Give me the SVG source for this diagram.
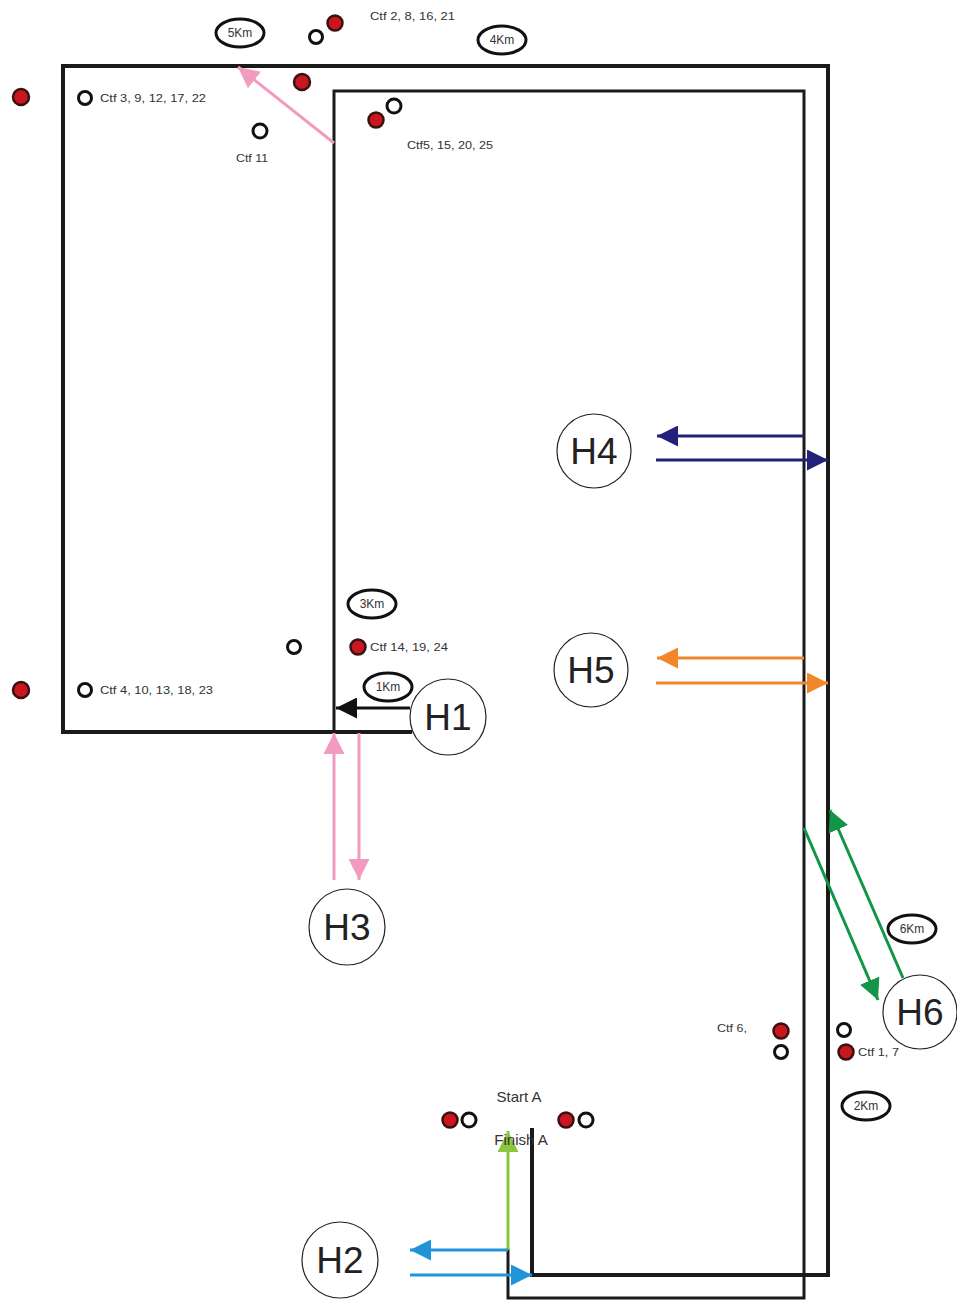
<svg xmlns="http://www.w3.org/2000/svg" width="957" height="1301" viewBox="0 0 957 1301">
<style>
.frame{fill:none;stroke:#1a1a1a;stroke-width:4;stroke-linecap:square}
.frame2{fill:none;stroke:#1a1a1a;stroke-width:3;stroke-linecap:square}
.red{fill:#c8171e;stroke:#3a1010;stroke-width:2.5}
.wht{fill:#fff;stroke:#111;stroke-width:3}
.sm{font-family:"Liberation Sans",Arial,sans-serif;font-size:11px;fill:#333}
.km{fill:#fff;stroke:#111;stroke-width:3}
.kmt{font-family:"Liberation Sans",Arial,sans-serif;font-size:12px;fill:#333;text-anchor:middle}
.hc{fill:#fff;stroke:#222;stroke-width:1.2}
.ht{font-family:"Liberation Sans",Arial,sans-serif;font-size:37px;fill:#222;text-anchor:middle}
.lbl{font-family:"Liberation Sans",Arial,sans-serif;font-size:15px;fill:#333;text-anchor:middle}
</style>
<defs>
<marker id="mBlack" viewBox="0 0 10 10" refX="10" refY="5" markerWidth="7" markerHeight="7" markerUnits="strokeWidth" orient="auto"><path d="M0,0 L10,5 L0,10 z" fill="#111"/></marker>
<marker id="mPink" viewBox="0 0 10 10" refX="10" refY="5" markerWidth="7" markerHeight="7" markerUnits="strokeWidth" orient="auto"><path d="M0,0 L10,5 L0,10 z" fill="#f29ac0"/></marker>
<marker id="mNavy" viewBox="0 0 10 10" refX="10" refY="5" markerWidth="7" markerHeight="7" markerUnits="strokeWidth" orient="auto"><path d="M0,0 L10,5 L0,10 z" fill="#22207a"/></marker>
<marker id="mOrange" viewBox="0 0 10 10" refX="10" refY="5" markerWidth="7" markerHeight="7" markerUnits="strokeWidth" orient="auto"><path d="M0,0 L10,5 L0,10 z" fill="#f0872a"/></marker>
<marker id="mGreen" viewBox="0 0 10 10" refX="10" refY="5" markerWidth="7" markerHeight="7" markerUnits="strokeWidth" orient="auto"><path d="M0,0 L10,5 L0,10 z" fill="#139447"/></marker>
<marker id="mLime" viewBox="0 0 10 10" refX="10" refY="5" markerWidth="7" markerHeight="7" markerUnits="strokeWidth" orient="auto"><path d="M0,0 L10,5 L0,10 z" fill="#8cc63e"/></marker>
<marker id="mBlue" viewBox="0 0 10 10" refX="10" refY="5" markerWidth="7" markerHeight="7" markerUnits="strokeWidth" orient="auto"><path d="M0,0 L10,5 L0,10 z" fill="#1f95d8"/></marker>
</defs>
<rect width="957" height="1301" fill="#fff"/>
<g id="course">
<path class="frame" d="M410,732 L63,732 L63,66 L828,66 L828,1275 L532,1275 L532,1130"/>
<path class="frame2" d="M334,732 L334,91 L804,91 L804,1298 L508,1298 L508,1250"/>
</g>
<g id="connectors">
<line x1="334" y1="143" x2="238" y2="67" stroke="#f29ac0" stroke-width="3" marker-end="url(#mPink)"/>
<line x1="410" y1="708" x2="336" y2="708" stroke="#111" stroke-width="3" marker-end="url(#mBlack)"/>
<line x1="334" y1="880" x2="334" y2="733" stroke="#f29ac0" stroke-width="3" marker-end="url(#mPink)"/>
<line x1="359" y1="733" x2="359" y2="880" stroke="#f29ac0" stroke-width="3" marker-end="url(#mPink)"/>
<line x1="804" y1="436" x2="657" y2="436" stroke="#22207a" stroke-width="3" marker-end="url(#mNavy)"/>
<line x1="656" y1="460" x2="828" y2="460" stroke="#22207a" stroke-width="3" marker-end="url(#mNavy)"/>
<line x1="804" y1="658" x2="657" y2="658" stroke="#f0872a" stroke-width="3" marker-end="url(#mOrange)"/>
<line x1="656" y1="683" x2="828" y2="683" stroke="#f0872a" stroke-width="3" marker-end="url(#mOrange)"/>
<line x1="804" y1="828" x2="878" y2="1000" stroke="#139447" stroke-width="3" marker-end="url(#mGreen)"/>
<line x1="903" y1="978" x2="830" y2="810" stroke="#139447" stroke-width="3" marker-end="url(#mGreen)"/>
<line x1="508" y1="1250" x2="508" y2="1131" stroke="#8cc63e" stroke-width="3" marker-end="url(#mLime)"/>
<line x1="508" y1="1250" x2="410" y2="1250" stroke="#1f95d8" stroke-width="3" marker-end="url(#mBlue)"/>
<line x1="410" y1="1275" x2="532" y2="1275" stroke="#1f95d8" stroke-width="3" marker-end="url(#mBlue)"/>
</g>
<g id="controls">
<circle class="red" cx="21" cy="97" r="8"/>
<circle class="wht" cx="85" cy="98" r="6.5"/>
<text class="sm" x="100" y="102" textLength="106" lengthAdjust="spacingAndGlyphs">Ctf 3, 9, 12, 17, 22</text>
<circle class="wht" cx="316" cy="37" r="6.5"/>
<circle class="red" cx="335" cy="23" r="7.5"/>
<text class="sm" x="370" y="20" textLength="85" lengthAdjust="spacingAndGlyphs">Ctf 2, 8, 16, 21</text>
<circle class="red" cx="302" cy="82" r="8"/>
<circle class="wht" cx="260" cy="131" r="7"/>
<text class="sm" x="236" y="162" textLength="32" lengthAdjust="spacingAndGlyphs">Ctf 11</text>
<circle class="red" cx="376" cy="120" r="7.5"/>
<circle class="wht" cx="394" cy="106" r="7"/>
<text class="sm" x="407" y="149" textLength="86" lengthAdjust="spacingAndGlyphs">Ctf5, 15, 20, 25</text>
<circle class="wht" cx="294" cy="647" r="6.5"/>
<circle class="red" cx="358" cy="647" r="7.5"/>
<text class="sm" x="370" y="651" textLength="78" lengthAdjust="spacingAndGlyphs">Ctf 14, 19, 24</text>
<circle class="red" cx="21" cy="690" r="8"/>
<circle class="wht" cx="85" cy="690" r="6.5"/>
<text class="sm" x="100" y="694" textLength="113" lengthAdjust="spacingAndGlyphs">Ctf 4, 10, 13, 18, 23</text>
<text class="sm" x="717" y="1032" textLength="30" lengthAdjust="spacingAndGlyphs">Ctf 6,</text>
<circle class="red" cx="781" cy="1031" r="7.5"/>
<circle class="wht" cx="781" cy="1052" r="6.5"/>
<circle class="wht" cx="844" cy="1030" r="6.5"/>
<circle class="red" cx="846" cy="1052" r="7.5"/>
<text class="sm" x="858" y="1056" textLength="41" lengthAdjust="spacingAndGlyphs">Ctf 1, 7</text>
<circle class="red" cx="450" cy="1120" r="7.5"/>
<circle class="wht" cx="469" cy="1120" r="7"/>
<circle class="red" cx="566" cy="1120" r="7.5"/>
<circle class="wht" cx="586" cy="1120" r="7"/>
<text class="lbl" x="519" y="1102">Start A</text>
<text class="lbl" x="521" y="1145">Finish A</text>
</g>
<g id="km5"><ellipse class="km" cx="240" cy="33" rx="24" ry="14"/><text class="kmt" x="240" y="37">5Km</text></g>
<g id="km4"><ellipse class="km" cx="502" cy="40" rx="24" ry="14"/><text class="kmt" x="502" y="44">4Km</text></g>
<g id="km3"><ellipse class="km" cx="372" cy="604" rx="24" ry="14"/><text class="kmt" x="372" y="608">3Km</text></g>
<g id="km1"><ellipse class="km" cx="388" cy="687" rx="24" ry="14"/><text class="kmt" x="388" y="691">1Km</text></g>
<g id="km6"><ellipse class="km" cx="912" cy="929" rx="24" ry="14"/><text class="kmt" x="912" y="933">6Km</text></g>
<g id="km2"><ellipse class="km" cx="866" cy="1106" rx="24" ry="14"/><text class="kmt" x="866" y="1110">2Km</text></g>
<g id="H1"><circle class="hc" cx="448" cy="717" r="38"/><text class="ht" x="448" y="730">H1</text></g>
<g id="H2"><circle class="hc" cx="340" cy="1260" r="38"/><text class="ht" x="340" y="1273">H2</text></g>
<g id="H3"><circle class="hc" cx="347" cy="927" r="38"/><text class="ht" x="347" y="940">H3</text></g>
<g id="H4"><circle class="hc" cx="594" cy="451" r="37"/><text class="ht" x="594" y="464">H4</text></g>
<g id="H5"><circle class="hc" cx="591" cy="670" r="37"/><text class="ht" x="591" y="683">H5</text></g>
<g id="H6"><circle class="hc" cx="920" cy="1012" r="37"/><text class="ht" x="920" y="1025">H6</text></g>
</svg>
